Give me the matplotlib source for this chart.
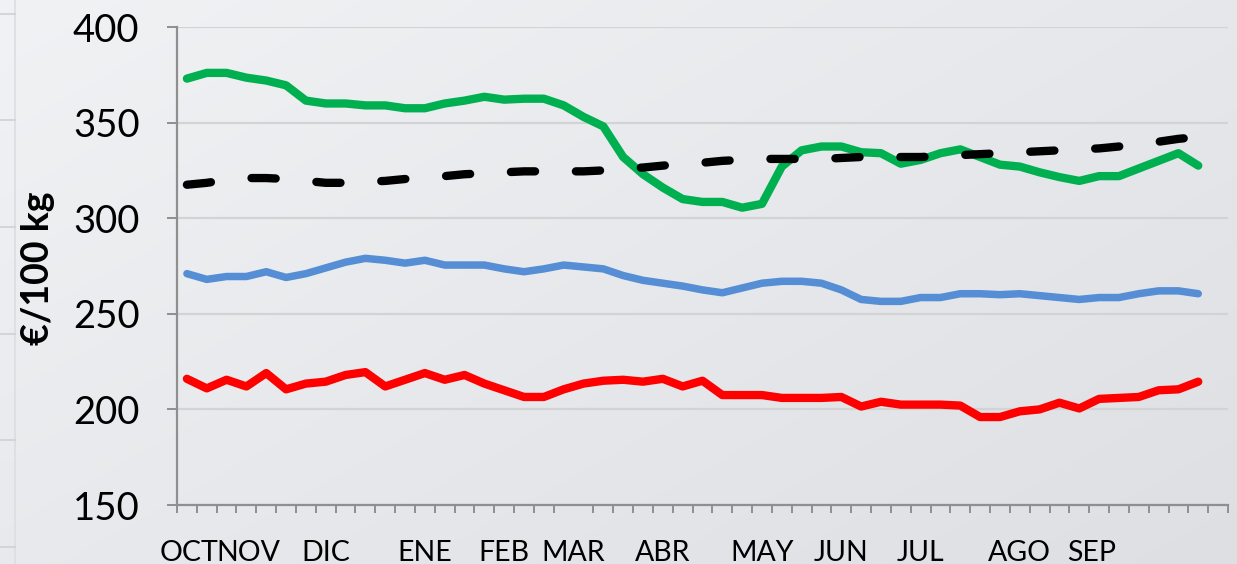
import numpy as np
import matplotlib
matplotlib.use("Agg")
import matplotlib.pyplot as plt

plt.rcParams["font.family"] = ["Lato", "DejaVu Sans"]

# weekly prices, €/100 kg
green = [373, 376, 376, 373.5, 372, 369.5, 361.5, 360, 360, 359, 359, 357.5,
         357.5, 360, 361.5, 363.5, 362, 362.5, 362.5, 359, 353, 348,
         332, 323, 316, 310, 308.5, 308.5, 305.5, 307.5, 327, 335.5,
         337.5, 337.5, 334.5, 334, 328.5, 330.5, 334, 336, 332, 328,
         327, 324, 321.5, 319.5, 322, 322, 326, 330, 334, 327.5]
blue = [271, 268, 269.5, 269.5, 272, 269, 271, 274, 277, 279, 278, 276.5,
        278, 275.5, 275.5, 275.5, 273.5, 272, 273.5, 275.5, 274.5, 273.5,
        270, 267.5, 266, 264.5, 262.5, 261, 263.5, 266, 267, 267,
        266, 262.5, 257.5, 256.5, 256.5, 258.5, 258.5, 260.5, 260.5, 260,
        260.5, 259.5, 258.5, 257.5, 258.5, 258.5, 260.5, 262, 262, 260.5]
red = [216, 211, 215.5, 212, 219, 210.5, 213.5, 214.5, 218, 219.5, 212, 215.5,
       219, 215.5, 218, 213.5, 210, 206.5, 206.5, 210.5, 213.5, 215, 215.5,
       214.5, 216, 212, 215, 207.5, 207.5, 207.5, 206, 206, 206, 206.5,
       201.5, 204, 202.5, 202.5, 202.5, 202, 196, 196, 199, 200,
       203.5, 200.5, 205.5, 206, 206.5, 210, 210.5, 214.5]
trend = [317.5, 318.5, 320, 321, 321, 320.5, 319.5, 318.5, 318.5, 319, 319.5,
         320.5, 321.5, 322, 323, 323.5, 324, 324.5, 324.5, 324.5, 324.5, 325,
         326, 326.5, 327.5, 328.5, 329, 330, 330.5, 331, 331, 331, 331, 331.5,
         332, 332, 332, 332, 332.5, 333, 333.5, 334, 334.5, 335, 335.5, 336,
         336.5, 337.5, 338.5, 340, 341.5, 342.5]

months = ["OCT", "NOV", "DIC", "ENE", "FEB", "MAR", "ABR", "MAY", "JUN",
          "JUL", "AGO", "SEP"]
month_week = [0.1, 3.1, 7, 12, 16, 19.5, 24, 29, 33, 37, 42, 45.6]
n_cats = 53

W, H = 1237, 564
fig = plt.figure(figsize=(W / 100, H / 100), dpi=100)

# soft diagonal gradient background
bg = fig.add_axes([0, 0, 1, 1], zorder=-5)
gy, gx = np.mgrid[0:1:200j, 0:1:400j]
grad = 0.55 * gx + 0.45 * gy
c0 = np.array([0.945, 0.949, 0.957])
c1 = np.array([0.870, 0.875, 0.890])
img = c0 + (c1 - c0) * grad[..., None]
bg.imshow(img, aspect="auto", extent=[0, 1, 0, 1], origin="upper")
bg.axis("off")

# faint remains of a neighbouring panel on the far left
bg.plot([15 / W, 15 / W], [0, 1], color="#dcdde1", lw=1.2)
for yy in [14, 120, 227, 334, 440, 547]:
    bg.plot([0, 15 / W], [1 - yy / H] * 2, color="#cfd0d4", lw=1.2)
bg.set_xlim(0, 1)
bg.set_ylim(0, 1)

ax = fig.add_axes([177 / W, (H - 505) / H, (1228 - 177) / W, (505 - 27) / H])
ax.set_facecolor("none")

x = np.arange(len(green))
lw = 6.0
ax.plot(x, green, color="#00b050", lw=lw, solid_capstyle="round",
        solid_joinstyle="round", zorder=3)
ax.plot(x, blue, color="#558ed5", lw=5.4, solid_capstyle="round",
        solid_joinstyle="round", zorder=3)
ax.plot(x, red, color="#ff0000", lw=lw, solid_capstyle="round",
        solid_joinstyle="round", zorder=3)
ax.plot(x, trend, color="black", lw=lw, dashes=(2.9, 4.9),
        dash_capstyle="round", dash_joinstyle="round", zorder=4)

ax.set_xlim(-0.5, n_cats - 0.5)
ax.set_ylim(150, 400)
ax.set_yticks(np.arange(150, 401, 50))
ax.yaxis.grid(True, color="#d3d3d5", lw=1.6)
ax.set_axisbelow(True)

ax.set_xticks(month_week)
ax.set_xticklabels(months)
ax.set_xticks(np.arange(n_cats + 1) - 0.5, minor=True)
ax.tick_params(axis="x", which="major", length=0, pad=25, labelsize=20.5)
ax.tick_params(axis="x", which="minor", length=6, width=1.4,
               color="#8f8f8f", direction="out")
ax.tick_params(axis="y", length=7, width=1.4, color="#8f8f8f", pad=20,
               labelsize=27.5)

for s in ["top", "right"]:
    ax.spines[s].set_visible(False)
for s in ["left", "bottom"]:
    ax.spines[s].set_color("#8f8f8f")
    ax.spines[s].set_linewidth(1.6)

fig.text(38 / W, 1 - 268 / H, "€/100 kg", rotation=90, ha="center",
         va="center", fontsize=27, fontweight="bold")

fig.savefig("out.png", dpi=100)
